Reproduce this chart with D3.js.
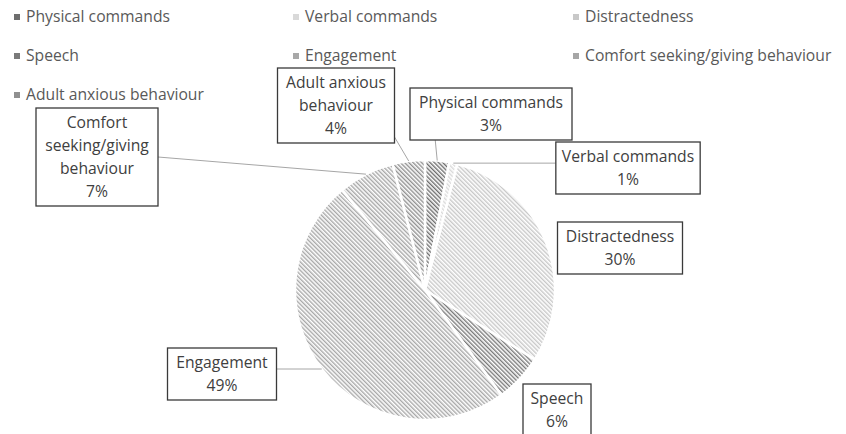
<!DOCTYPE html>
<html lang="en">
<head>
<meta charset="utf-8">
<title>Pie chart: observed behaviours</title>
<script src="https://d3js.org/d3.v7.min.js"></script>
<style type="text/css">
  body { margin: 0; background: #fff; }
  svg { font-family: "Open Sans", Lato, sans-serif; }
</style>
</head>
<body>
<script type="text/javascript">
// data
var categories = ["Physical commands", "Verbal commands", "Distractedness", "Speech",
                  "Engagement", "Comfort seeking/giving behaviour", "Adult anxious behaviour"];
var values = [3, 1, 30, 6, 49, 7, 4];
var labelLines = [
  ["Physical commands"],
  ["Verbal commands"],
  ["Distractedness"],
  ["Speech"],
  ["Engagement"],
  ["Comfort", "seeking/giving", "behaviour"],
  ["Adult anxious", "behaviour"]
];

// hatch colours per slice (foreground stripe)
var stripe = ["#6e6e6e", "#d9d9d9", "#c8c8c8", "#7a7a7a", "#a8a8a8", "#a6a6a6", "#909090"];

// label box layout: centre x, top y, min width, which side the leader leaves from
var boxes = [
  {cx: 491, y: 88,  w: 162, lead: "bottom"},
  {cx: 628, y: 142, w: 128, lead: "left"},
  {cx: 620, y: 222, w: 125, lead: null},
  {cx: 557, y: 384, w: 68,  lead: null},
  {cx: 222, y: 348, w: 109, lead: "right"},
  {cx: 97,  y: 108, w: 122, lead: "right"},
  {cx: 336, y: 68,  w: 117, lead: "bottom"}
];

var width = 846, height = 434;
var cx = 425, cy = 290, r = 130;
var lineH = 23;
var fontSize = "15.7px";

var svg = d3.select("body").append("svg")
  .attr("width", width).attr("height", height);

var defs = svg.append("defs");
stripe.forEach(function(c, i) {
  var p = defs.append("pattern")
    .attr("id", "hatch" + i)
    .attr("patternUnits", "userSpaceOnUse")
    .attr("width", 3).attr("height", 3)
    .attr("patternTransform", "rotate(-45)");
  p.append("rect").attr("width", 3).attr("height", 3).attr("fill", "#fff");
  p.append("rect").attr("width", 1.4).attr("height", 3).attr("fill", c);
});

// legend
var legCols = [14, 293, 573], legRows = [17, 56, 95];
var legend = svg.append("g");
categories.forEach(function(name, i) {
  var lx = legCols[i % 3], ly = legRows[Math.floor(i / 3)];
  legend.append("rect")
    .attr("x", lx).attr("y", ly - 3).attr("width", 6).attr("height", 6)
    .attr("fill", stripe[i]);
  legend.append("text")
    .attr("x", lx + 12).attr("y", ly)
    .attr("dy", "0.35em")
    .attr("fill", "#595959")
    .style("font-size", fontSize)
    .text(name);
});

// pie
var pie = d3.pie().sort(null).value(function(d) { return d; });
var arcs = pie(values);
var arc = d3.arc().innerRadius(0).outerRadius(r);

var g = svg.append("g").attr("transform", "translate(" + cx + "," + cy + ")");
g.selectAll("path")
  .data(arcs)
  .enter()
  .append("path")
  .attr("d", arc)
  .attr("fill", function(d, i) { return "url(#hatch" + i + ")"; })
  .attr("stroke", "#fff")
  .attr("stroke-width", 2.5);

var leaders = svg.append("g");
var labels = svg.append("g");

// label boxes, sized to their text
arcs.forEach(function(d, i) {
  var b = boxes[i];
  var lines = labelLines[i].concat([values[i] + "%"]);
  var bh = lines.length * lineH + 6;
  var box = labels.append("rect")
    .attr("fill", "#fff").attr("stroke", "#3a3a3a").attr("stroke-width", 1.3);
  var maxW = 0;
  lines.forEach(function(t, k) {
    var tx = labels.append("text")
      .attr("x", b.cx)
      .attr("y", b.y + 15 + k * lineH)
      .attr("dy", "0.35em")
      .attr("text-anchor", "middle")
      .attr("fill", "#404040")
      .style("font-size", fontSize)
      .text(t);
    maxW = Math.max(maxW, tx.node().getComputedTextLength());
  });
  var bw = Math.max(b.w, maxW + 12);
  b.x = b.cx - bw / 2; b.bw = bw; b.bh = bh;
  box.attr("x", b.x).attr("y", b.y).attr("width", bw).attr("height", bh);
});

// leader lines
function edgePoint(a) {
  return [cx + r * Math.sin(a), cy - r * Math.cos(a)];
}
arcs.forEach(function(d, i) {
  var b = boxes[i];
  if (!b.lead) return;
  var mid = (d.startAngle + d.endAngle) / 2;
  var p = edgePoint(mid), start;
  if (b.lead === "bottom") {
    start = [Math.min(Math.max(p[0] - 2, b.x), b.x + b.bw), b.y + b.bh];
    if (i === 6) start = [b.x + b.bw, b.y + b.bh - 6];
  } else if (b.lead === "left") {
    start = [b.x, p[1]];
  } else {
    start = [b.x + b.bw, Math.min(Math.max(p[1], b.y), b.y + b.bh)];
    if (i === 4) {
      // meet pie edge horizontally
      var yy = b.y + 21;
      p = [cx - Math.sqrt(r * r - (yy - cy) * (yy - cy)), yy];
      start = [b.x + b.bw, yy];
    }
    if (i === 5) start = [b.x + b.bw, b.y + 49];
  }
  leaders.append("line")
    .attr("x1", start[0]).attr("y1", start[1])
    .attr("x2", p[0]).attr("y2", p[1])
    .attr("stroke", "#a6a6a6").attr("stroke-width", 1);
});
</script>
</body>
</html>
